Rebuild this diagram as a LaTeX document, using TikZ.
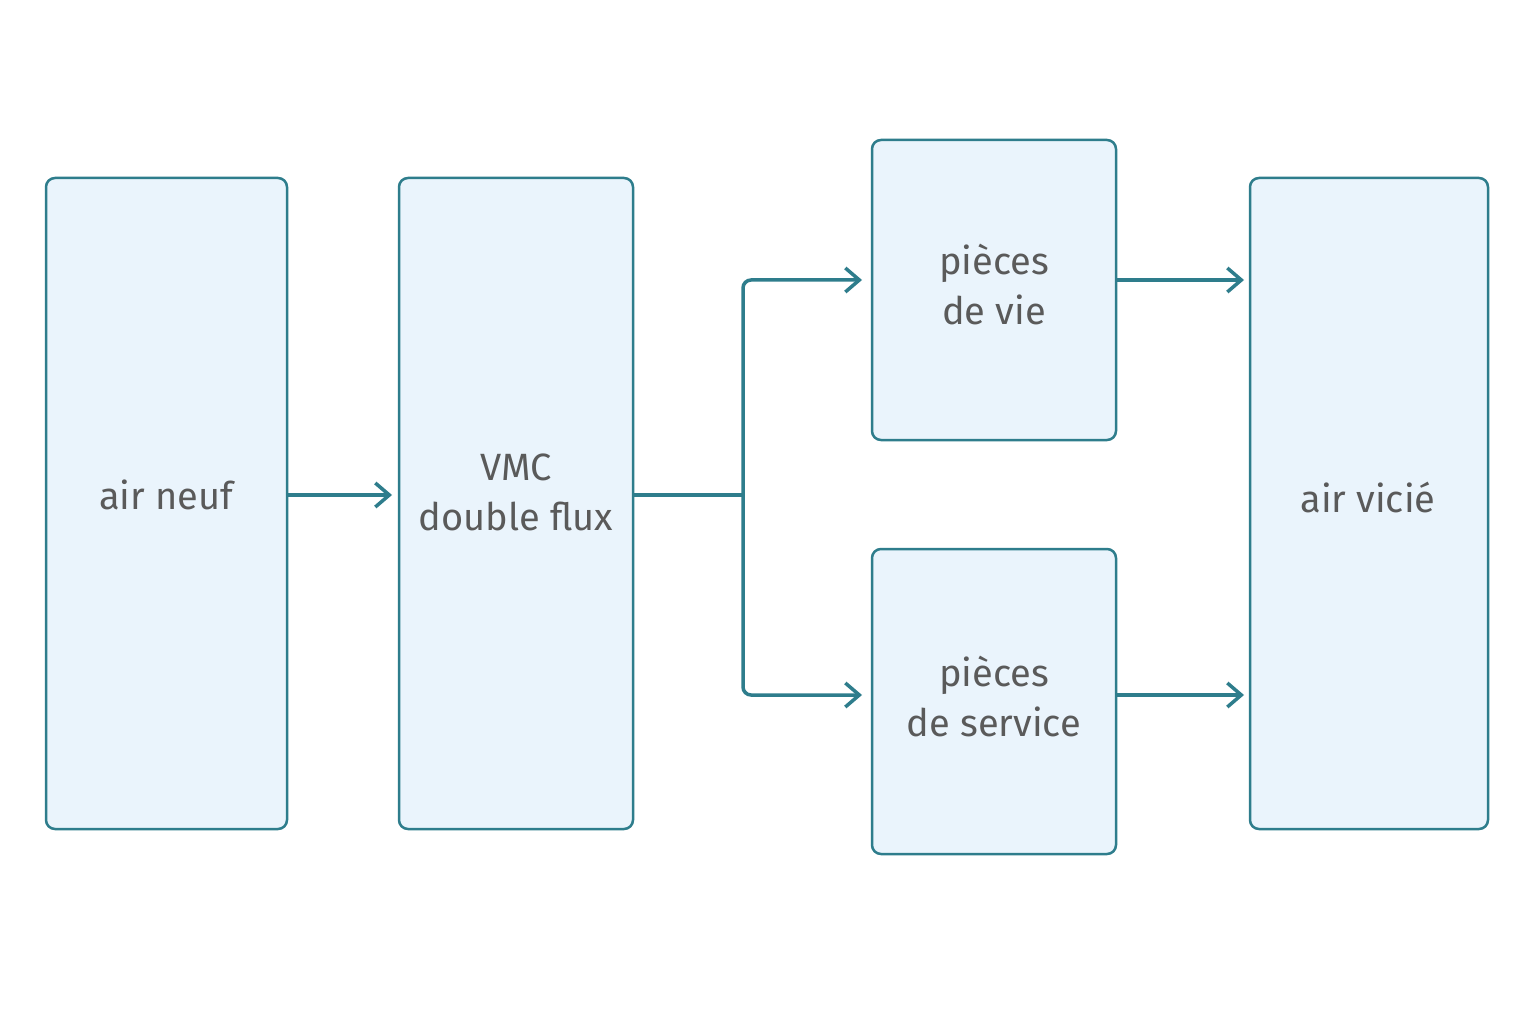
\documentclass[tikz,border=0pt]{standalone}
\usepackage{fontspec}
\setmainfont{Fira Sans}
\usetikzlibrary{arrows.meta}
\definecolor{st}{HTML}{2E7D8C}
\definecolor{fl}{HTML}{EAF4FC}
\definecolor{tx}{HTML}{5A5A5A}
\begin{document}
\begin{tikzpicture}[x=1pt,y=-1pt,
  box/.style={draw=st,fill=fl,line width=2.5pt,rounded corners=9pt},
  lab/.style={text=tx,font=\fontsize{38}{50}\selectfont,align=center},
  arr/.style={draw=st,line width=3.5pt,-{Straight Barb[length=14pt,width=24pt,line width=3.5pt]}}]
\useasboundingbox[fill=white] (0,0) rectangle (1536,1024);
\draw[box] (46,178) rectangle (287,829);
\draw[box] (399,178) rectangle (633,829);
\draw[box] (872,140) rectangle (1116,440);
\draw[box] (872,549) rectangle (1116,854);
\draw[box] (1250,178) rectangle (1488,829);
\node[lab] (a) at (166,495) {air neuf};
\node[lab] (b) at (516,492) {VMC\\double flux};
\node[lab] (c) at (994,285) {pièces\\de vie};
\node[lab] (d) at (994,697) {pièces\\de service};
\node[lab] (e) at (1368,498) {air vicié};
\coordinate (aR) at (287,495); \coordinate (bL) at (392,495);
\coordinate (bR) at (633,495); \coordinate (j) at (743,495);
\coordinate (cL) at (862,280); \coordinate (dL) at (862,695);
\coordinate (cR) at (1116,280); \coordinate (dR) at (1116,695);
\coordinate (e1) at (1244,280); \coordinate (e2) at (1244,695);
\draw[arr] (aR) -- (bL);
\draw[st,line width=3.5pt] (bR) -- (j);
\draw[arr,rounded corners=8pt] (j) -- (743,280) -- (cL);
\draw[arr,rounded corners=8pt] (j) -- (743,695) -- (dL);
\draw[arr] (cR) -- (e1);
\draw[arr] (dR) -- (e2);
\end{tikzpicture}
\end{document}
